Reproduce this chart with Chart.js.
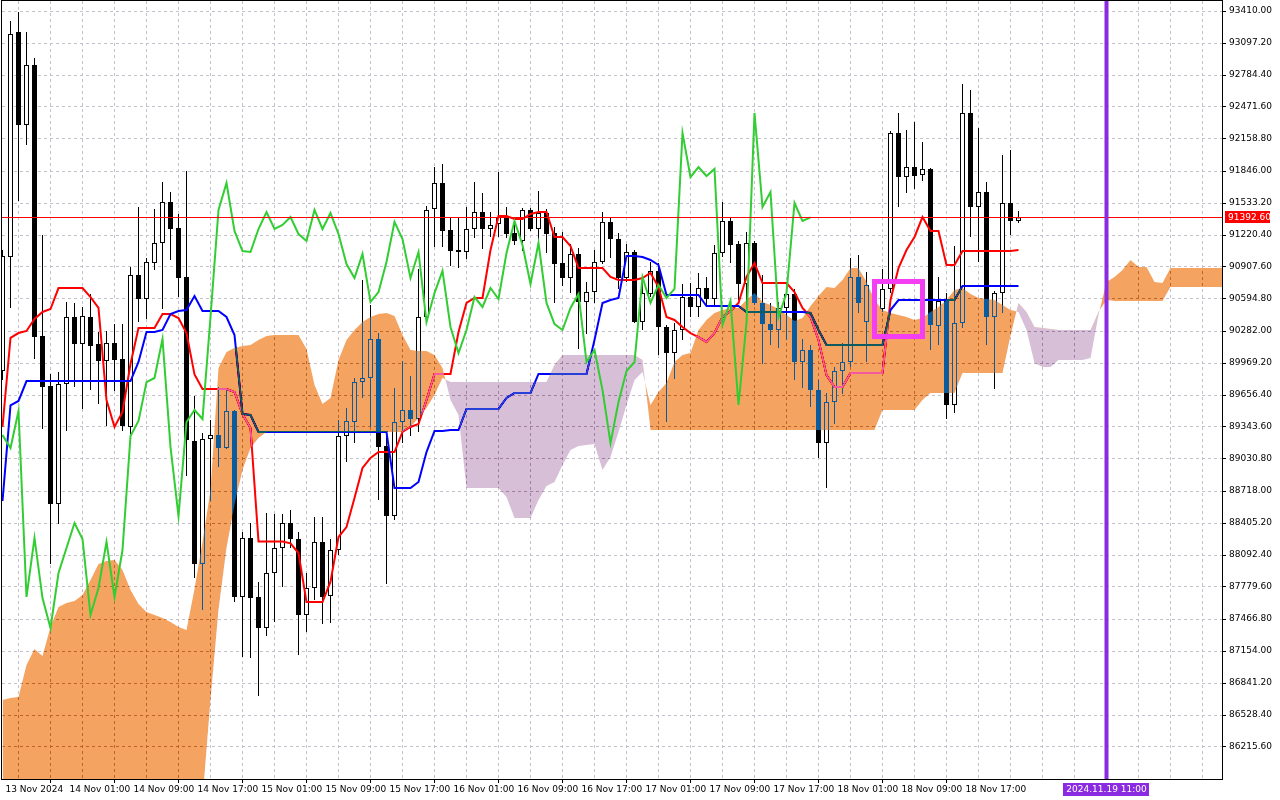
<!DOCTYPE html>
<html>
<head>
<meta charset="utf-8">
<script src="https://cdn.jsdelivr.net/npm/chart.js@4/dist/chart.umd.min.js"></script>
<style>
html, body { margin: 0; padding: 0; background: #fff; overflow: hidden; }
canvas { display: block; }
</style>
</head>
<body>
<canvas id="chart" width="1280" height="800"></canvas>
<script>
// BTCUSD H1, 13 Nov 17:00 .. 19 Nov 00:00, Ichimoku
var xLabels = ['13 Nov 2024', '14 Nov 01:00', '14 Nov 09:00', '14 Nov 17:00', '15 Nov 01:00', '15 Nov 09:00',
  '15 Nov 17:00', '16 Nov 01:00', '16 Nov 09:00', '16 Nov 17:00', '17 Nov 01:00', '17 Nov 09:00',
  '17 Nov 17:00', '18 Nov 01:00', '18 Nov 09:00', '18 Nov 17:00'];

var yTicks = [86215.6, 86528.4, 86841.2, 87154.0, 87466.8, 87779.6, 88092.4, 88405.2, 88718.0, 89030.8,
  89343.6, 89656.4, 89969.2, 90282.0, 90594.8, 90907.6, 91220.4, 91533.2, 91846.0, 92158.8,
  92471.6, 92784.4, 93097.2, 93410.0];

var opens = [89891, 91005, 93205, 92296, 92882, 90233, 89744, 88591, 89764, 90419,
  90155, 90419, 90155, 89989, 90165, 90008, 89344, 90829, 90595, 90947,
  91142, 91543, 91289, 90810, 89207, 88005, 89226, 89265, 89138, 89500,
  87682, 88259, 87682, 87379, 87916, 88161, 88405, 88249, 87506, 87770,
  88220, 87692, 88141, 89256, 89392, 89783, 89823, 90204, 89158, 88474,
  89392, 89510, 89422, 90419, 91475, 91729, 91269, 91074, 91054, 91279,
  91445, 91279, 91328, 91396, 91240, 91162, 91465, 91279, 91435, 91240,
  90947, 90800, 91035, 90566, 90663, 90957, 91348, 91181, 90800, 91054,
  90370, 90644, 90869, 90321, 90067, 90292, 90614, 90517, 90702, 90595,
  91044, 91357, 91132, 90741, 91142, 90556, 90350, 90292, 90507, 90644,
  89979, 90096, 89705, 89187, 89588, 89891, 89979, 90810, 90370, 90536,
  90497, 90693, 92217, 91787, 91885, 91807, 91866, 90331, 90585, 89559,
  90360, 92413, 91494, 91641, 90419, 90653, 91533, 91357];

var highs = [91074, 93312, 93400, 93205, 92951, 91220, 89862, 89881, 90565, 90556,
  90517, 90644, 90272, 90282, 90350, 90350, 90908, 91494, 90996, 91475,
  91739, 91641, 91426, 91846, 89647, 89285, 89412, 89735, 89725, 89510,
  88317, 88405, 87828, 88503, 88493, 88493, 88532, 88317, 87916, 88464,
  88464, 88249, 89412, 89529, 89823, 90781, 90536, 90262, 89285, 89725,
  89989, 89842, 90888, 91504, 91885, 91914, 91387, 91387, 91494, 91739,
  91631, 91445, 91836, 91494, 91357, 91484, 91484, 91651, 91475, 91299,
  91250, 91132, 91093, 90761, 91074, 91445, 91396, 91240, 91132, 91074,
  90790, 90957, 90947, 90341, 90360, 90741, 90751, 90849, 90810, 91123,
  91543, 91396, 91162, 91250, 91162, 90829, 90556, 90565, 90693, 90693,
  90204, 90145, 89803, 89676, 89930, 90165, 90996, 91025, 90859, 90663,
  90888, 92237, 92413, 92247, 92325, 92130, 91875, 90810, 90653, 91113,
  92696, 92638, 92266, 91739, 90673, 92002, 92051, 91455];

var lows = [89803, 90507, 91553, 92100, 90008, 89324, 88005, 88395, 89305, 89735,
  89520, 89705, 89568, 89353, 89696, 89305, 89275, 90370, 90399, 90878,
  90497, 90976, 90614, 88865, 87868, 87555, 88620, 88953, 89129, 87633,
  87095, 87086, 86714, 87301, 87438, 87780, 88161, 87115, 87340, 87653,
  87418, 87428, 88092, 89001, 89187, 89627, 89344, 88630, 87809, 88435,
  89187, 89256, 89295, 90360, 91103, 91103, 90917, 90898, 90986, 91191,
  91084, 91201, 91201, 91191, 91123, 91064, 91260, 91142, 91044, 90556,
  90722, 90653, 90106, 90253, 90556, 90937, 90996, 90693, 90761, 90360,
  90292, 90614, 90047, 89393, 89813, 90194, 90419, 90419, 90517, 90517,
  91005, 90947, 90585, 90458, 90536, 89959, 90145, 90116, 90194, 89803,
  89725, 89539, 89041, 88747, 89373, 89666, 89930, 90458, 89979, 90409,
  90468, 90653, 91494, 91631, 91670, 91748, 90096, 90145, 89422, 89480,
  90311, 91201, 90957, 90145, 89715, 90458, 91220, 91338];

var closes = [91015, 93185, 92296, 92882, 90223, 89735, 88591, 89764, 90419, 90155,
  90429, 90135, 89989, 90165, 89999, 89353, 90829, 90595, 90957, 91142,
  91543, 91279, 90800, 89217, 88005, 89226, 89265, 89138, 89500, 87682,
  88259, 87672, 87379, 87916, 88161, 88405, 88249, 87506, 87770, 88220,
  87682, 88141, 89256, 89402, 89783, 89823, 90204, 89148, 88474, 89392,
  89510, 89422, 90419, 91465, 91729, 91260, 91064, 91054, 91279, 91445,
  91279, 91318, 91396, 91230, 91162, 91465, 91279, 91435, 91230, 90937,
  90800, 91035, 90566, 90663, 90957, 91348, 91181, 90800, 91054, 90370,
  90653, 90869, 90321, 90067, 90292, 90614, 90517, 90702, 90595, 91044,
  91357, 91123, 90741, 91142, 90556, 90350, 90292, 90507, 90644, 89979,
  90096, 89705, 89187, 89588, 89891, 89979, 90810, 90556, 90732, 90605,
  90693, 92217, 91787, 91885, 91797, 91866, 90341, 90575, 89559, 90360,
  92413, 91494, 91641, 90419, 90653, 91533, 91357, 91392.6];

var tenkan = [89344, 90214, 90262, 90282, 90399, 90468, 90497, 90702, 90702, 90702,
  90702, 90614, 90507, 89608, 89344, 89490, 89959, 90311, 90311, 90311,
  90448, 90448, 90409, 90262, 89857, 89715, 89715, 89715, 89715, 89686,
  89471, 89334, 88224, 88224, 88224, 88224, 88206, 88112, 87633, 87633,
  87633, 87832, 88268, 88366, 88650, 88943, 89041, 89099, 89099, 89099,
  89295, 89344, 89373, 89608, 89862, 89862, 89862, 90272, 90556, 90605,
  90605, 91074, 91406, 91406, 91377, 91377, 91426, 91445, 91445, 91201,
  91201, 91113, 90898, 90898, 90898, 90898, 90810, 90781, 90781, 90781,
  90800, 90849, 90712, 90419, 90390, 90321, 90262, 90223, 90175, 90262,
  90419, 90478, 90556, 90810, 90947, 90751, 90751, 90751, 90751, 90663,
  90507, 90419, 90194, 89852, 89735, 89735, 89871, 89871, 89871, 89871,
  89871, 90585, 90898, 91074, 91201, 91396, 91260, 91260, 90927, 90927,
  91064, 91064, 91064, 91064, 91064, 91064, 91064, 91074];

var kijun = [88620, 89554, 89598, 89793, 89793, 89793, 89793, 89793, 89793, 89793,
  89793, 89793, 89793, 89793, 89793, 89793, 89793, 89979, 90272, 90272,
  90292, 90448, 90478, 90487, 90624, 90478, 90478, 90478, 90419, 90243,
  89471, 89461, 89295, 89295, 89295, 89295, 89295, 89295, 89295, 89295,
  89295, 89295, 89295, 89295, 89295, 89295, 89295, 89295, 89295, 88747,
  88747, 88747, 88806, 89099, 89305, 89305, 89314, 89314, 89520, 89520,
  89520, 89520, 89520, 89627, 89676, 89676, 89676, 89862, 89862, 89862,
  89862, 89862, 89862, 89862, 90194, 90556, 90585, 90605, 91015, 91015,
  91005, 90976, 90927, 90634, 90634, 90634, 90634, 90634, 90526, 90526,
  90526, 90526, 90526, 90468, 90468, 90468, 90468, 90468, 90468, 90468,
  90468, 90458, 90292, 90145, 90145, 90145, 90145, 90145, 90145, 90145,
  90145, 90487, 90585, 90585, 90585, 90585, 90585, 90585, 90585, 90585,
  90722, 90722, 90722, 90722, 90722, 90722, 90722, 90722];

var senkouA = [86675, 86695, 86704, 87017, 87174, 87105, 87389, 87584, 87623, 87643,
  87701, 87848, 88004, 88034, 88044, 87946, 87750, 87613, 87535, 87506,
  87477, 87438, 87389, 87359, 87760, 88220, 88728, 89920, 90077, 90116,
  90135, 90145, 90194, 90233, 90243, 90243, 90243, 90243, 90106, 89754,
  89568, 89627, 89999, 90194, 90292, 90370, 90419, 90448, 90458, 90429,
  90243, 90096, 90087, 90087, 90047, 89920, 89608, 89461, 88747, 88747,
  88747, 88747, 88747, 88660, 88454, 88454, 88454, 88630, 88767, 88806,
  88972, 89119, 89158, 89168, 89177, 88923, 89050, 89295, 89559, 89803,
  89881, 89559, 89686, 89774, 89979, 90047, 90067, 90292, 90390, 90458,
  90487, 90507, 90507, 90585, 90653, 90566, 90536, 90497, 90438, 90380,
  90409, 90526, 90624, 90712, 90702, 90781, 90898, 90898, 90761, 90585,
  90487, 90458, 90438, 90419, 90390, 90409, 90468, 90517, 90585, 90683,
  90702, 90644, 90605, 90595, 90585, 90536, 90487, 90468, 90292, 89969,
  89930, 89930, 89999, 89999, 89999, 89999, 90018, 90438, 90761, 90810,
  90878, 90976, 90908, 90908, 90761, 90751, 90898, 90898, 90898, 90898,
  90898, 90898, 90898, 90898];

var senkouB = [85600, 85600, 85600, 85600, 85600, 85600, 85600, 85600, 85600, 85600,
  85600, 85600, 85600, 85600, 85600, 85600, 85600, 85600, 85600, 85600,
  85600, 85600, 85600, 85600, 85600, 85698, 86675, 87555, 88161, 88581,
  88923, 89138, 89236, 89295, 89295, 89295, 89295, 89295, 89295, 89295,
  89295, 89295, 89295, 89295, 89295, 89295, 89295, 89295, 89295, 89295,
  89295, 89344, 89432, 89529, 89656, 89823, 89784, 89784, 89784, 89784,
  89784, 89784, 89784, 89784, 89784, 89784, 89784, 89784, 89784, 89950,
  90047, 90047, 90047, 90047, 90047, 90047, 90047, 90047, 90047, 90047,
  89999, 89314, 89314, 89314, 89314, 89314, 89314, 89314, 89314, 89314,
  89314, 89314, 89314, 89314, 89314, 89314, 89314, 89314, 89314, 89314,
  89314, 89314, 89314, 89314, 89314, 89314, 89314, 89314, 89314, 89314,
  89510, 89510, 89510, 89510, 89510, 89608, 89676, 89676, 89676, 89676,
  89871, 89871, 89871, 89871, 89871, 89871, 90233, 90556, 90468, 90321,
  90311, 90302, 90292, 90292, 90292, 90292, 90292, 90468, 90585, 90575,
  90575, 90575, 90575, 90575, 90575, 90575, 90712, 90712, 90712, 90712,
  90712, 90712, 90712, 90712];

var chikouShift = 26;
var lastPrice = 91392.6;
var markerBar = 138;
var markerLabel = '2024.11.19 11:00';
var boxBars = [109, 115];
var boxPrices = [90766, 90228];

var gridColor = '#c6c0cc';
var axisFont = { family: 'DejaVu Sans', size: 9 };

function points(arr) {
  return arr.map(function(v, i) { return { x: i, y: v }; });
}

var wickData = highs.map(function(h, i) { return { x: i, y: [lows[i], h] }; });
var bodyData = opens.map(function(o, i) { return { x: i, y: [o, closes[i]] }; });
var bodyFill = opens.map(function(o, i) { return closes[i] >= o ? '#ffffff' : '#000000'; });
var chikouData = points(closes.slice(chikouShift));

// the cloud is painted with 'difference' over white, so these give sandybrown / thistle
var overlay = {
  id: 'overlay',
  beforeDraw: function(chart) {
    var c = chart.ctx;
    c.save();
    c.fillStyle = '#ffffff';
    c.fillRect(0, 0, chart.width, chart.height);
    c.restore();
  },
  afterDatasetDraw: function(chart, args) {
    if (args.index === 3) chart.ctx.globalCompositeOperation = 'difference';
    if (args.index === 4) chart.ctx.globalCompositeOperation = 'source-over';
  },
  afterDatasetsDraw: function(chart) {
    var c = chart.ctx, a = chart.chartArea, xs = chart.scales.x, ys = chart.scales.y;
    c.save();
    c.globalCompositeOperation = 'source-over';

    var py = Math.round(ys.getPixelForValue(lastPrice)) + 0.5;
    c.strokeStyle = '#ff0000';
    c.lineWidth = 1;
    c.beginPath();
    c.moveTo(a.left, py);
    c.lineTo(a.right, py);
    c.stroke();

    var bx1 = xs.getPixelForValue(boxBars[0]), bx2 = xs.getPixelForValue(boxBars[1]);
    var by1 = ys.getPixelForValue(boxPrices[0]), by2 = ys.getPixelForValue(boxPrices[1]);
    c.strokeStyle = '#f33ef3';
    c.lineWidth = 5;
    c.strokeRect(bx1, by1, bx2 - bx1, by2 - by1);

    var vx = xs.getPixelForValue(markerBar);
    c.strokeStyle = '#8a2be2';
    c.lineWidth = 4;
    c.beginPath();
    c.moveTo(vx, a.top);
    c.lineTo(vx, a.bottom);
    c.stroke();

    c.strokeStyle = '#000000';
    c.lineWidth = 1;
    c.strokeRect(a.left - 0.5, a.top - 0.5, a.right - a.left + 1, a.bottom - a.top + 1);

    c.font = '9px "DejaVu Sans"';
    c.textBaseline = 'middle';
    c.textAlign = 'left';
    c.fillStyle = '#ff0000';
    c.fillRect(a.right + 3, py - 6.5, 45, 12);
    c.fillStyle = '#ffffff';
    c.fillText(lastPrice.toFixed(2), a.right + 6, py);

    var tw = c.measureText(markerLabel).width;
    c.fillStyle = '#8a2be2';
    c.fillRect(Math.round(vx - tw / 2 - 3), a.bottom + 4, Math.round(tw + 6), 13);
    c.fillStyle = '#ffffff';
    c.textAlign = 'center';
    c.fillText(markerLabel, vx, a.bottom + 10.5);
    c.restore();
  }
};

function labelFor(v) {
  return (v % 8 === 0 && v / 8 < xLabels.length) ? xLabels[v / 8] : '';
}

new Chart(document.getElementById('chart'), {
  type: 'bar',
  data: {
    datasets: [
      { type: 'bar', data: wickData, backgroundColor: '#000000', borderWidth: 0,
        barThickness: 1, grouped: false, inflateAmount: 0, order: 9 },
      { type: 'bar', data: bodyData, backgroundColor: bodyFill, borderColor: '#000000', borderWidth: 1,
        borderSkipped: false, barThickness: 5, grouped: false, inflateAmount: 0, order: 8 },
      { type: 'line', data: points(tenkan), borderColor: '#ff0000', borderWidth: 2,
        pointRadius: 0, tension: 0, fill: false, order: 7 },
      { type: 'line', data: points(kijun), borderColor: '#0000ff', borderWidth: 2,
        pointRadius: 0, tension: 0, fill: false, order: 6 },
      { type: 'line', data: points(senkouA), borderColor: 'rgba(0,0,0,0)', borderWidth: 0,
        pointRadius: 0, tension: 0, order: 5,
        fill: { target: '+1', above: '#0b5b9f', below: '#274027' } },
      { type: 'line', data: points(senkouB), borderColor: 'rgba(0,0,0,0)', borderWidth: 0,
        pointRadius: 0, tension: 0, fill: false, order: 4 },
      { type: 'line', data: chikouData, borderColor: '#32cd32', borderWidth: 2,
        pointRadius: 0, tension: 0, fill: false, order: 3 }
    ]
  },
  options: {
    responsive: false,
    animation: false,
    devicePixelRatio: 1,
    events: [],
    layout: { padding: { top: 1, left: 2, right: 0, bottom: 0 } },
    plugins: {
      legend: { display: false },
      tooltip: { enabled: false },
      filler: { propagate: false }
    },
    scales: {
      x: {
        type: 'linear',
        position: 'bottom',
        bounds: 'data',
        min: -0.0625,
        max: 152.4375,
        offset: false,
        afterFit: function(s) { s.height = 21; s.paddingLeft = 0; s.paddingRight = 0; },
        afterBuildTicks: function(s) {
          var t = [];
          for (var m = 0; m <= 38; m++) t.push({ value: m * 4 });
          s.ticks = t;
        },
        ticks: {
          autoSkip: false, maxRotation: 0, minRotation: 0, align: 'start', labelOffset: 3,
          padding: 1, color: '#000000', font: axisFont,
          callback: function(v) { return labelFor(v); }
        },
        grid: {
          color: gridColor, lineWidth: 1, drawTicks: true, tickLength: 4,
          tickColor: function(ctx) { return ctx.tick && labelFor(ctx.tick.value) ? '#000000' : 'rgba(0,0,0,0)'; }
        },
        border: { display: false, dash: [3, 3] }
      },
      y: {
        type: 'linear',
        position: 'right',
        bounds: 'data',
        min: 85902.8,
        max: 93507.75,
        afterFit: function(s) { s.width = 58; s.paddingTop = 0; s.paddingBottom = 0; },
        afterBuildTicks: function(s) {
          s.ticks = yTicks.map(function(v) { return { value: v }; });
        },
        ticks: {
          autoSkip: false, padding: 3, color: '#000000', font: axisFont,
          callback: function(v) { return Number(v).toFixed(2); }
        },
        grid: { color: gridColor, lineWidth: 1, tickLength: 4, tickColor: '#000000' },
        border: { display: false, dash: [3, 3] }
      }
    }
  },
  plugins: [overlay]
});
</script>
</body>
</html>
